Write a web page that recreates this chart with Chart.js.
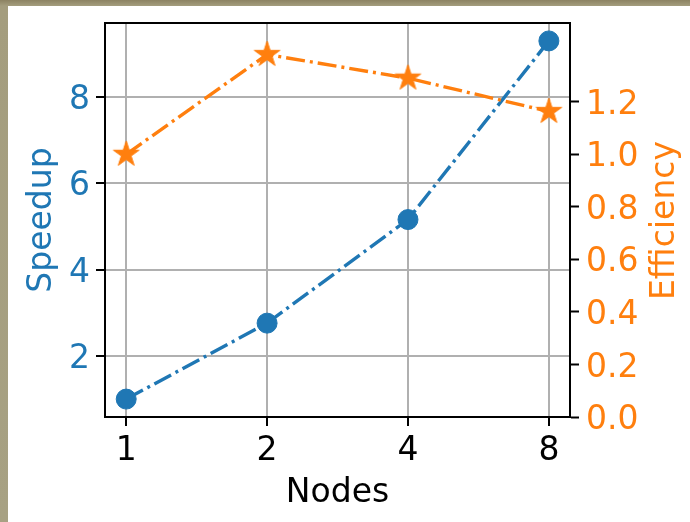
<!DOCTYPE html>
<html>
<head>
<meta charset="utf-8">
<script src="https://cdn.jsdelivr.net/npm/chart.js@4/dist/chart.umd.min.js"></script>
<style>
  html, body { margin: 0; padding: 0; }
  body { width: 690px; height: 522px; background: linear-gradient(to bottom, #8c8262 0px, #a49d7e 6px, #a7a183 100%); position: relative; overflow: hidden; }
  #wrap { position: absolute; left: 8px; top: 6px; width: 682px; height: 516px; background: #ffffff; }
  canvas { display: block; }
</style>
</head>
<body>
<div id="wrap"><canvas id="c" width="682" height="516"></canvas></div>
<script>
// ---- data ----
const nodes = [1, 2, 4, 8];
const speedup = [1.0, 2.76, 5.16, 9.30];
const efficiency = [1.0, 1.38, 1.29, 1.163];
const speedupTicks = [2, 4, 6, 8];
const efficiencyTicks = [0.0, 0.2, 0.4, 0.6, 0.8, 1.0, 1.2];

const BLUE = '#1f77b4';
const ORANGE = '#ff7f0e';
const FONT = "'DejaVu Sans', sans-serif";
const FS = 33;

// filled five-pointed star marker
function makeStar(R, color) {
  const size = Math.ceil(R * 2 + 4);
  const cv = document.createElement('canvas');
  cv.width = size; cv.height = size;
  const g = cv.getContext('2d');
  const cx = size / 2, cy = size / 2, r = R * 0.381966;
  g.beginPath();
  for (let i = 0; i < 10; i++) {
    const rad = i % 2 === 0 ? R : r;
    const a = -Math.PI / 2 + i * Math.PI / 5;
    const px = cx + rad * Math.cos(a), py = cy + rad * Math.sin(a);
    if (i === 0) g.moveTo(px, py); else g.lineTo(px, py);
  }
  g.closePath();
  g.fillStyle = color; g.fill();
  g.strokeStyle = color; g.lineWidth = 1; g.stroke();
  return cv;
}
const star = makeStar(13.5, ORANGE);

const framePlugin = {
  id: 'frame',
  afterDatasetsDraw(chart) {
    const { ctx, chartArea: a } = chart;
    ctx.save();
    ctx.strokeStyle = '#000';
    ctx.lineWidth = 2;
    ctx.strokeRect(a.left, a.top, a.right - a.left, a.bottom - a.top);
    ctx.restore();
  },
  afterDraw(chart) {
    const { ctx, chartArea: a } = chart;
    ctx.save();
    ctx.font = FS + 'px ' + FONT;
    ctx.fillStyle = ORANGE;
    ctx.textAlign = 'center';
    ctx.textBaseline = 'alphabetic';
    ctx.translate(666, (a.top + a.bottom) / 2 + 0.5);
    ctx.rotate(-Math.PI / 2);
    ctx.fillText('Efficiency', 0, 0);
    ctx.restore();
  }
};

function fitV(w) {
  return (s) => { s.width = w; s.paddingTop = 0; s.paddingBottom = 0; };
}

new Chart(document.getElementById('c'), {
  type: 'line',
  data: {
    datasets: [
      {
        label: 'Speedup',
        data: nodes.map((n, i) => ({ x: n, y: speedup[i] })),
        yAxisID: 'y',
        borderColor: BLUE,
        backgroundColor: BLUE,
        borderWidth: 3.4,
        borderDash: [19, 5, 3, 5],
        pointStyle: 'circle',
        pointRadius: 10,
        pointBorderWidth: 1,
        pointBackgroundColor: BLUE,
        pointBorderColor: BLUE,
        tension: 0,
        order: 2
      },
      {
        label: 'Efficiency',
        data: nodes.map((n, i) => ({ x: n, y: efficiency[i] })),
        yAxisID: 'y2',
        borderColor: ORANGE,
        backgroundColor: ORANGE,
        borderWidth: 3.4,
        borderDash: [19, 5, 3, 5],
        pointStyle: star,
        pointRadius: 13,
        tension: 0,
        order: 1
      }
    ]
  },
  options: {
    responsive: false,
    animation: false,
    devicePixelRatio: 1,
    layout: { padding: { top: 17, left: 0, right: 0, bottom: 0 } },
    plugins: { legend: { display: false }, tooltip: { enabled: false } },
    scales: {
      x: {
        type: 'logarithmic',
        min: 0.901,
        max: 8.876,
        afterBuildTicks: (s) => { s.ticks = nodes.map(v => ({ value: v })); },
        afterFit: (s) => { s.height = 105; s.paddingLeft = 0; s.paddingRight = 0; },
        grid: { color: '#b0b0b0', lineWidth: 2, tickColor: '#000', tickWidth: 2, tickLength: 9, drawTicks: true },
        border: { display: true, color: '#000', width: 2 },
        ticks: {
          color: '#000', font: { family: FONT, size: FS }, padding: 6,
          maxRotation: 0, autoSkip: false,
          callback: (v) => String(v)
        },
        title: {
          display: true, text: 'Nodes', color: '#000',
          font: { family: FONT, size: FS, lineHeight: 1.2 },
          padding: { top: 0, bottom: 9 }
        }
      },
      y: {
        type: 'linear',
        position: 'left',
        min: 0.585,
        max: 9.715,
        afterBuildTicks: (s) => { s.ticks = speedupTicks.map(v => ({ value: v })); },
        afterFit: fitV(97),
        grid: { color: '#b0b0b0', lineWidth: 2, tickColor: '#000', tickWidth: 2, tickLength: 9, drawTicks: true },
        border: { display: true, color: '#000', width: 2 },
        ticks: {
          color: BLUE, font: { family: FONT, size: FS }, padding: 6, labelOffset: 3.5,
          callback: (v) => String(v)
        },
        title: {
          display: true, text: 'Speedup', color: BLUE,
          font: { family: FONT, size: FS, lineHeight: 1.2 },
          padding: { top: 15, bottom: 0 }
        }
      },
      y2: {
        type: 'linear',
        position: 'right',
        min: 0,
        max: 1.5,
        afterBuildTicks: (s) => { s.ticks = efficiencyTicks.map(v => ({ value: v })); },
        afterFit: fitV(120),
        grid: { drawOnChartArea: false, color: '#000', tickColor: '#000', tickWidth: 2, tickLength: 9, drawTicks: true },
        border: { display: true, color: '#000', width: 2 },
        ticks: {
          color: ORANGE, font: { family: FONT, size: FS }, padding: 7, labelOffset: 3.5,
          callback: (v) => Number(v).toFixed(1)
        },
        title: { display: false }
      }
    }
  },
  plugins: [framePlugin]
});
</script>
</body>
</html>
